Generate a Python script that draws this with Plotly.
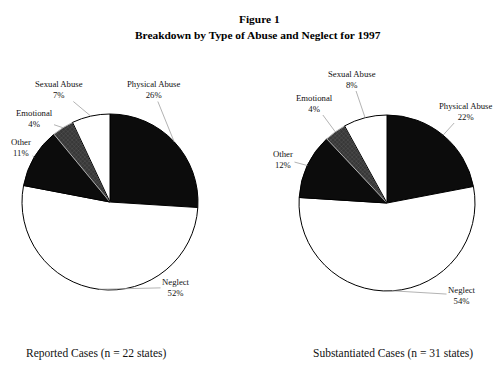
import math
import plotly.graph_objects as go

W, H = 500, 376

categories = ["Physical Abuse", "Neglect", "Other", "Emotional", "Sexual Abuse"]
reported_values = [26, 52, 11, 4, 7]
substantiated_values = [22, 54, 12, 4, 8]
reported_caption = "Reported Cases (n = 22 states)"
substantiated_caption = "Substantiated Cases (n = 31 states)"
title_line1 = "Figure 1"
title_line2 = "Breakdown by Type of Abuse and Neglect for 1997"

fill_colors = ["#0c0c0c", "#ffffff", "#0c0c0c", "#3a3a3a", "#ffffff"]
edge_colors = ["#000000", "#000000", "#000000", "#b0b0b0", "#000000"]
pattern_shapes = ["", "", "", "x", ""]

SERIF = "Liberation Serif, Times New Roman, serif"

# pie placement (pixels): center x, center y, radius
pies = [
    dict(values=reported_values, cx=110, cy=202, r=88, caption=reported_caption, cap_x=96,
         labels=[(153, 89.5), (176, 287.5), (21, 147), (34, 118), (59, 89.5)]),
    dict(values=substantiated_values, cx=387, cy=203, r=88, caption=substantiated_caption, cap_x=393,
         labels=[(465, 111), (462, 295), (283, 159), (314, 103), (352, 79)]),
]

fig = go.Figure()
annotations = []

for p in pies:
    cx, cy, r = p["cx"], p["cy"], p["r"]
    fig.add_trace(go.Pie(
        labels=categories,
        values=p["values"],
        sort=False,
        direction="clockwise",
        rotation=0,
        textinfo="none",
        showlegend=False,
        domain=dict(x=[(cx - r) / W, (cx + r) / W], y=[1 - (cy + r) / H, 1 - (cy - r) / H]),
        marker=dict(
            colors=fill_colors,
            line=dict(color=edge_colors, width=1),
            pattern=dict(shape=pattern_shapes, fgcolor="#686868", bgcolor="#383838",
                         size=3, solidity=0.2),
        ),
    ))
    total = sum(p["values"])
    cum = 0
    for name, v, (lx, ly) in zip(categories, p["values"], p["labels"]):
        mid = (cum + v / 2) / total * 2 * math.pi
        cum += v
        tx = cx + r * math.sin(mid)
        ty = cy - r * math.cos(mid)
        annotations.append(dict(
            x=tx / W, y=1 - ty / H, xref="paper", yref="paper",
            text=f"{name}<br>{v}%", showarrow=True, arrowhead=0, arrowwidth=0.8,
            arrowcolor="#a0a0a0", standoff=0, startstandoff=0,
            ax=lx - tx, ay=ly - ty,
            font=dict(family=SERIF, size=8.7, color="#111111"),
            align="center",
        ))
    annotations.append(dict(
        x=p["cap_x"] / W, y=1 - 353 / H, xref="paper", yref="paper", showarrow=False,
        text=p["caption"], font=dict(family=SERIF, size=11.5, color="#111111"),
        xanchor="center", yanchor="middle",
    ))

annotations.append(dict(x=259 / W, y=1 - 19 / H, xref="paper", yref="paper", showarrow=False,
                        text=f"<b>{title_line1}</b>", font=dict(family=SERIF, size=11.4, color="#000"),
                        xanchor="center", yanchor="middle"))
annotations.append(dict(x=258 / W, y=1 - 35 / H, xref="paper", yref="paper", showarrow=False,
                        text=f"<b>{title_line2}</b>", font=dict(family=SERIF, size=11.4, color="#000"),
                        xanchor="center", yanchor="middle"))

fig.update_layout(
    width=W, height=H,
    margin=dict(l=0, r=0, t=0, b=0),
    paper_bgcolor="white",
    plot_bgcolor="white",
    annotations=annotations,
)

fig.write_html("out.html", config={"displayModeBar": False},
               post_script="document.body.style.margin='0px';document.body.style.overflow='hidden';")
